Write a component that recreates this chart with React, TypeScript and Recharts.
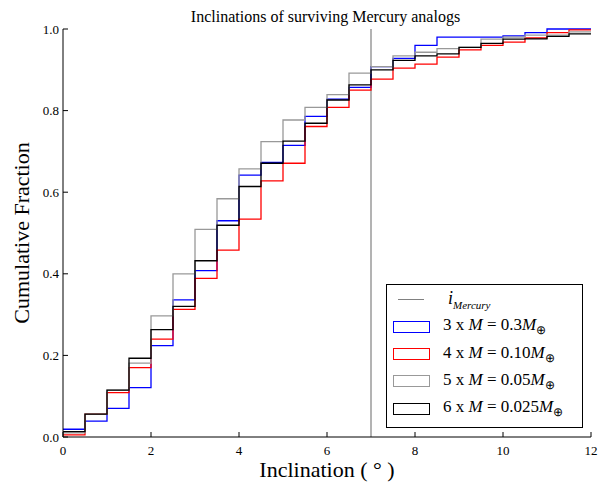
import { LineChart, Line, XAxis, YAxis, ReferenceLine } from 'recharts';

// left edges of the 0.5 degree bins, plus the right edge of the last bin
const binEdges = [0, 0.5, 1, 1.5, 2, 2.5, 3, 3.5, 4, 4.5, 5, 5.5, 6, 6.5, 7, 7.5, 8, 8.5, 9, 9.5, 10, 10.5, 11, 11.5, 12];

const m03 = [0.019, 0.039, 0.07, 0.121, 0.224, 0.336, 0.408, 0.53, 0.642, 0.673, 0.715, 0.786, 0.828, 0.857, 0.908, 0.928, 0.96, 0.98, 0.98, 0.98, 0.983, 0.991, 1.0, 1.0];
const m010 = [0.005, 0.056, 0.109, 0.17, 0.24, 0.313, 0.389, 0.458, 0.534, 0.628, 0.671, 0.761, 0.808, 0.85, 0.877, 0.904, 0.914, 0.931, 0.949, 0.96, 0.968, 0.978, 0.991, 0.998];
const m005 = [0.01, 0.056, 0.115, 0.181, 0.297, 0.4, 0.509, 0.584, 0.657, 0.724, 0.777, 0.808, 0.839, 0.892, 0.908, 0.934, 0.943, 0.952, 0.955, 0.975, 0.98, 0.985, 0.985, 0.993];
const m0025 = [0.013, 0.056, 0.115, 0.193, 0.263, 0.32, 0.432, 0.519, 0.614, 0.671, 0.725, 0.769, 0.826, 0.863, 0.9, 0.923, 0.934, 0.939, 0.955, 0.965, 0.975, 0.976, 0.982, 0.988];

const mercuryInc = 7;
const xTicks = [0, 2, 4, 6, 8, 10, 12];
const yTicks = [0, 0.2, 0.4, 0.6, 0.8, 1.0];

const series = [
  { key: 'm03', n: '3', mass: '0.3', color: '#0000ff', values: m03 },
  { key: 'm010', n: '4', mass: '0.10', color: '#ff0000', values: m010 },
  { key: 'm005', n: '5', mass: '0.05', color: '#999999', values: m005 },
  { key: 'm0025', n: '6', mass: '0.025', color: '#000000', values: m0025 },
];

// last point repeats the final bin so the step reaches x = 12
const data = binEdges.map((x, i) => {
  const row: Record<string, number> = { x };
  series.forEach((s) => {
    row[s.key] = s.values[Math.min(i, s.values.length - 1)];
  });
  return row;
});

const FONT = '"Liberation Serif", "DejaVu Serif", serif';

function XTick(props: any) {
  const { x, y, payload } = props;
  return (
    <text x={x} y={y} dy="0.71em" textAnchor="middle" fontFamily={FONT} fontSize={13} fill="#000">
      {payload.value}
    </text>
  );
}

function YTick(props: any) {
  const { x, y, payload } = props;
  return (
    <text x={x} y={y} dy="0.36em" textAnchor="end" fontFamily={FONT} fontSize={13} fill="#000">
      {Number(payload.value).toFixed(1)}
    </text>
  );
}

function LegendBox() {
  const rowStyle: React.CSSProperties = {
    display: 'flex',
    alignItems: 'center',
    height: 27.3,
    fontSize: 17,
  };
  return (
    <div
      style={{
        position: 'absolute',
        left: 386,
        top: 284,
        width: 197,
        height: 144,
        boxSizing: 'border-box',
        border: '1px solid #000',
        background: '#fff',
        fontFamily: FONT,
        color: '#000',
        paddingLeft: 6,
      }}
    >
      <div style={{ ...rowStyle, height: 28 }}>
        <div style={{ width: 26, height: 0, borderTop: '1px solid #808080', marginLeft: 5, marginRight: 24 }} />
        <span style={{ fontStyle: 'italic', fontSize: 18 }}>
          i<sub style={{ fontSize: 11 }}>Mercury</sub>
        </span>
      </div>
      {series.map((s) => (
        <div key={s.key} style={rowStyle}>
          <div
            style={{
              width: 37,
              height: 12,
              boxSizing: 'border-box',
              border: `1.5px solid ${s.color}`,
              marginRight: 13,
            }}
          />
          <span>
            {s.n} x <i>M</i> = {s.mass}
            <i>M</i>
            <sub style={{ fontSize: 12, fontFamily: '"DejaVu Sans", sans-serif', fontWeight: 300 }}>⊕</sub>
          </span>
        </div>
      ))}
    </div>
  );
}

export default function App() {
  return (
    <div style={{ position: 'absolute', left: 0, top: 0, width: 612, height: 483, background: '#fff' }}>
      <div
        style={{
          position: 'absolute',
          left: 0,
          width: 651,
          top: 8,
          textAlign: 'center',
          fontFamily: FONT,
          fontSize: 16,
          color: '#000',
        }}
      >
        Inclinations of surviving Mercury analogs
      </div>
      <LineChart
        width={612}
        height={483}
        data={data}
        margin={{ top: 29, right: 21, bottom: 0, left: 0 }}
        style={{ fontFamily: FONT }}
      >
        <XAxis
          xAxisId="bottom"
          dataKey="x"
          type="number"
          domain={[0, 12]}
          ticks={xTicks}
          height={46}
          tickSize={-5}
          tickMargin={14}
          axisLine={{ stroke: '#000' }}
          tickLine={{ stroke: '#000' }}
          tick={<XTick />}
          label={{
            value: 'Inclination ( ° )',
            position: 'insideBottom',
            offset: 6,
            fontSize: 22,
            fill: '#000',
            fontFamily: FONT,
          }}
        />
        <XAxis
          xAxisId="top"
          orientation="top"
          dataKey="x"
          type="number"
          domain={[0, 12]}
          ticks={xTicks}
          height={0}
          tickSize={-5}
          axisLine={{ stroke: '#000' }}
          tickLine={{ stroke: '#000' }}
          tick={false}
        />
        <YAxis
          yAxisId="left"
          type="number"
          domain={[0, 1]}
          ticks={yTicks}
          width={63}
          tickSize={-5}
          tickMargin={9}
          axisLine={{ stroke: '#000' }}
          tickLine={{ stroke: '#000' }}
          tick={<YTick />}
          label={{
            value: 'Cumulative Fraction',
            angle: -90,
            position: 'insideLeft',
            offset: 21,
            fontSize: 22,
            fill: '#000',
            fontFamily: FONT,
            style: { textAnchor: 'middle' },
          }}
        />
        <YAxis
          yAxisId="right"
          orientation="right"
          type="number"
          domain={[0, 1]}
          ticks={yTicks}
          width={0}
          tickSize={-5}
          axisLine={{ stroke: '#000' }}
          tickLine={{ stroke: '#000' }}
          tick={false}
        />
        <ReferenceLine xAxisId="bottom" yAxisId="left" x={mercuryInc} stroke="#808080" strokeWidth={1.2} />
        {series.map((s) => (
          <Line
            key={s.key}
            xAxisId="bottom"
            yAxisId="left"
            type="stepAfter"
            dataKey={s.key}
            stroke={s.color}
            strokeWidth={1.3}
            dot={false}
            isAnimationActive={false}
          />
        ))}
      </LineChart>
      <LegendBox />
    </div>
  );
}
